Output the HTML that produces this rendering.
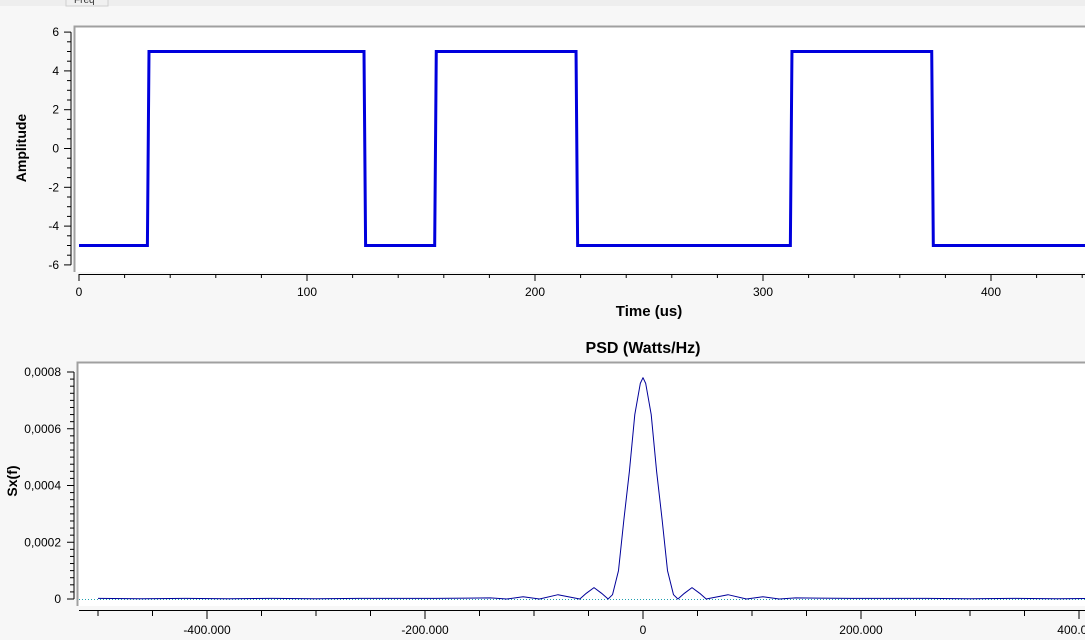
<!DOCTYPE html>
<html><head><meta charset="utf-8"><style>
html,body{margin:0;padding:0;background:#f7f7f7;width:1085px;height:640px;overflow:hidden;font-family:"Liberation Sans",sans-serif}
</style></head><body>
<svg id="svg" width="1085" height="640" xmlns="http://www.w3.org/2000/svg">
<rect x="0" y="0" width="1085" height="6" fill="#eeeeee"/>
<rect x="66" y="-2" width="42" height="8" fill="#f0f0f0" stroke="#cfcfcf"/>
<text x="74" y="3" font-size="10" fill="#333">Freq</text>
<g id="topPlot"></g>
<g id="botPlot"></g>
</svg>
<script>
const NS="http://www.w3.org/2000/svg";
// time signal data
const edgeTimes=[0,30,125,156,218,312,374,445];
const levels=[-5,5,-5,5,-5,5,-5];
const yTicks=[-6,-4,-2,0,2,4,6];
const xTicks=[0,100,200,300,400];
// psd data (freq in kHz, value)
const psdFreq=[-500,-460,-420,-380,-340,-300,-260,-220,-190,-160,-140,-125,-110,-95,-78,-58,-52,-45,-38,-32,-28,-22.5,-17.5,-12.5,-7.5,-2.5,0,2.5,7.5,12.5,17.5,22.5,28,32,38,45,52,58,78,95,110,125,140,160,190,220,260,300,340,380,420,460,500];
const psdVal=[0.000002,0.000001,0.000002,0.000001,0.000002,0.000001,0.000002,0.000002,0.000002,0.000003,0.000004,0,0.000008,0,0.000015,0,0.00002,0.00004,0.00002,0,0.000015,0.0001,0.00028,0.00045,0.00065,0.00076,0.00078,0.00076,0.00065,0.00045,0.00028,0.0001,0.000015,0,0.00002,0.00004,0.00002,0,0.000015,0,0.000008,0,0.000004,0.000003,0.000002,0.000002,0.000002,0.000001,0.000002,0.000001,0.000002,0.000001,0.000002];
const psdYTicks=[0,0.0002,0.0004,0.0006,0.0008];
const psdYLabels=["0","0,0002","0,0004","0,0006","0,0008"];
const psdXTicks=[-400,-200,0,200,400];
const psdXLabels=["-400.000","-200.000","0","200.000","400.000"];

function el(tag,attrs,parent,txt){const e=document.createElementNS(NS,tag);for(const k in attrs)e.setAttribute(k,attrs[k]);if(txt!==undefined)e.textContent=txt;parent.appendChild(e);return e;}
const topG=document.getElementById('topPlot'),botG=document.getElementById('botPlot');

// top plot
const tx=v=>79+v*2.28, ty=v=>148.5-v*19.4;
let c=el('rect',{x:74,y:26,width:1015,height:246,fill:'#fff'},topG);


el('path',{d:'M74.5,272V26.5H1085',stroke:'#a0a0a0','stroke-width':2,fill:'none'},topG);
let ya=el('g',{},topG);


el('line',{x1:71,y1:ty(6),x2:71,y2:ty(-6),stroke:'#000'},ya);
for(let v=-6;v<=6;v+=0.5){el('line',{x1:Number.isInteger(v/2)?64:67,x2:71,y1:ty(v),y2:ty(v),stroke:'#000'},ya);}
yTicks.forEach(v=>{const t=el('text',{x:59,y:ty(v)+4,'font-size':12,'text-anchor':'end'},ya,String(v));

});
let yt=el('text',{x:26,y:148,'font-size':14,'font-weight':'bold','text-anchor':'middle',transform:'rotate(-90 26 148)'},topG,'Amplitude');


let xa=el('g',{},topG);


el('line',{x1:79,y1:274.5,x2:1085,y2:274.5,stroke:'#000'},xa);
for(let v=0;v<=440;v+=20){el('line',{x1:tx(v),x2:tx(v),y1:274,y2:v%100===0?281:278,stroke:'#000'},xa);}
xTicks.forEach(v=>{const t=el('text',{x:tx(v),y:296,'font-size':12,'text-anchor':'middle'},xa,String(v));

});
let xt=el('text',{x:649,y:316,'font-size':15,'font-weight':'bold','text-anchor':'middle'},topG,'Time (us)');


let d='';
levels.forEach((lv,i)=>{const a=edgeTimes[i]+(i?0.7:0),b=edgeTimes[i+1];d+=(i?'L':'M')+tx(a)+','+ty(lv)+'L'+tx(b)+','+ty(lv);});
let sig=el('path',{d:d,stroke:'#0000dd','stroke-width':3,fill:'none'},topG);



// bottom plot
const px=f=>643+f*1.09, py=v=>599-v*283750;
let c2=el('rect',{x:77,y:362,width:1010,height:244,fill:'#fff'},botG);


el('path',{d:'M77.5,606V362.5H1085',stroke:'#a0a0a0','stroke-width':2,fill:'none'},botG);
let pt=el('text',{x:643,y:353,'font-size':16,'font-weight':'bold','text-anchor':'middle'},botG,'PSD (Watts/Hz)');


let ya2=el('g',{},botG);


el('line',{x1:74,y1:py(0.0008),x2:74,y2:py(0),stroke:'#000'},ya2);
for(let i=0;i<=32;i++){const v=i*0.000025;el('line',{x1:i%8===0?67:70,x2:74,y1:py(v),y2:py(v),stroke:'#000'},ya2);}
psdYTicks.forEach((v,i)=>{const t=el('text',{x:61,y:py(v)+4,'font-size':12,'text-anchor':'end'},ya2,psdYLabels[i]);

});
let yt2=el('text',{x:17,y:481,'font-size':14,'font-weight':'bold','text-anchor':'middle',transform:'rotate(-90 17 481)'},botG,'Sx(f)');


let xa2=el('g',{},botG);


el('line',{x1:79,y1:610.5,x2:1085,y2:610.5,stroke:'#000'},xa2);
for(let f=-500;f<=400;f+=50){el('line',{x1:px(f),x2:px(f),y1:610,y2:f%200===0?619:616,stroke:'#000'},xa2);}
psdXTicks.forEach((v,i)=>{const t=el('text',{x:px(v),y:634,'font-size':12,'text-anchor':'middle'},xa2,psdXLabels[i]);

});
let base=el('line',{x1:79,x2:1085,y1:599.5,y2:599.5,stroke:'#20a0b0','stroke-dasharray':'1,2'},botG);


let pd='';psdFreq.forEach((f,i)=>{pd+=(i?'L':'M')+px(f).toFixed(1)+','+py(psdVal[i]).toFixed(1);});
let ps=el('path',{d:pd,stroke:'#000099','stroke-width':1,fill:'none','stroke-linejoin':'round'},botG);


</script>
</body></html>
